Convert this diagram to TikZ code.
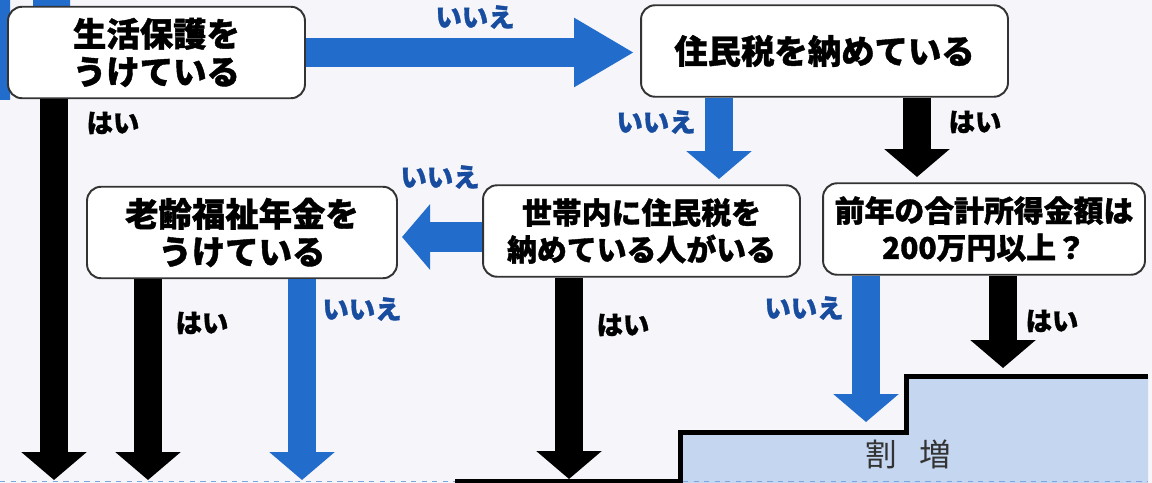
\documentclass[tikz,border=0pt]{standalone}
\usepackage{fontspec}
\usetikzlibrary{arrows.meta}
\newfontfamily\jp{Noto Sans CJK JP}[BoldFeatures={FakeBold=1.2}]
\definecolor{flowblue}{RGB}{34,108,204}
\definecolor{labelblue}{RGB}{24,76,158}
\definecolor{stepblue}{RGB}{196,214,240}
\definecolor{paper}{RGB}{245,245,250}
\tikzset{
  box/.style={draw=black!80, line width=1.1pt, fill=white, rounded corners=8pt,
    align=center, inner sep=0pt, minimum height=1.83cm,
    font=\jp\bfseries\fontsize{19pt}{21.5pt}\selectfont},
  smallbox/.style={box, font=\jp\bfseries\fontsize{17pt}{21pt}\selectfont},
  fat/.style={line width=0.56cm, -{Triangle[width=1.28cm,length=0.56cm]}},
  yeslabel/.style={font=\jp\bfseries\fontsize{15pt}{15pt}\selectfont, text=black},
  nolabel/.style={font=\jp\bfseries\fontsize{15pt}{15pt}\selectfont, text=labelblue}
}
\begin{document}
\begin{tikzpicture}[x=0.02cm,y=-0.02cm]
	\fill[paper] (0,0) rectangle (1152,483);
	\useasboundingbox (0,0) rectangle (1152,483);
	\fill[flowblue] (0,0) rectangle (10,100) (33,0) rectangle (70,7);
	% surcharge steps
	\fill[stepblue] (680,432) -- (906,432) -- (906,376) -- (1148,376) -- (1148,483) -- (680,483) -- cycle;
	\draw[flowblue!60, dashed, line width=1pt] (0,481.5) -- (455,481.5) (683,481.5) -- (1148,481.5);
	\draw[line width=0.1cm] (455,481) -- (680,481) -- (680,432) -- (906,432) -- (906,376) -- (1148,376);
	\node[font=\jp\fontsize{18pt}{18pt}\selectfont, text=black!80] (wari) at (908,454) {割\hspace{0.7em}増};

	\node[box, minimum width=5.94cm] (hogo) at (156.5,52.5) {生活保護を\\うけている};
	\node[box, minimum width=7.34cm] (juminzei) at (824.5,51) {住民税を納めている};
	\node[smallbox, minimum width=6.34cm] (setai) at (641.5,231) {世帯内に住民税を\\納めている人がいる};
	\node[smallbox, minimum width=6.44cm] (shotoku) at (984,229) {前年の合計所得金額は\\200万円以上？};
	\node[box, minimum width=6.2cm] (nenkin) at (242,232.5) {老齢福祉年金を\\うけている};

	\coordinate (e1) at (54,480);
	\coordinate (e2) at (148,480);
	\coordinate (e3) at (302,480);
	\coordinate (e4) at (569,479);
	\coordinate (e5) at (866,422);
	\coordinate (e6) at (1003,368);
	\coordinate (t1) at (719,179);
	\coordinate (t2) at (917,177);
	\coordinate (t3) at (402,237);

	\draw[fat] (hogo.south -| e1) -- (e1);
	\draw[fat, flowblue, line width=0.6cm, -{Triangle[width=1.3cm,length=1.2cm]}, shorten >=0.12cm]
		(hogo.east) -- (hogo.east -| juminzei.west);
	\draw[fat, flowblue] (juminzei.south -| t1) -- (t1);
	\draw[fat] (juminzei.south -| t2) -- (t2);
	\draw[fat, flowblue, line width=0.6cm] (setai.west |- t3) -- (t3);
	\draw[fat] (nenkin.south -| e2) -- (e2);
	\draw[fat, flowblue] (nenkin.south -| e3) -- (e3);
	\draw[fat] (setai.south -| e4) -- (e4);
	\draw[fat, flowblue] (shotoku.south -| e5) -- (e5);
	\draw[fat] (shotoku.south -| e6) -- (e6);

	\node[yeslabel] (hai1) at (113,123) {はい};
	\node[nolabel] (iie1) at (475,17) {いいえ};
	\node[nolabel] (iie2) at (656,122) {いいえ};
	\node[yeslabel] (hai2) at (975,122) {はい};
	\node[nolabel] (iie3) at (440,177) {いいえ};
	\node[yeslabel] (hai3) at (202,323) {はい};
	\node[nolabel] (iie4) at (362,309) {いいえ};
	\node[yeslabel] (hai4) at (623,325) {はい};
	\node[nolabel] (iie5) at (804,308) {いいえ};
	\node[yeslabel] (hai5) at (1052,321) {はい};
\end{tikzpicture}
\end{document}
